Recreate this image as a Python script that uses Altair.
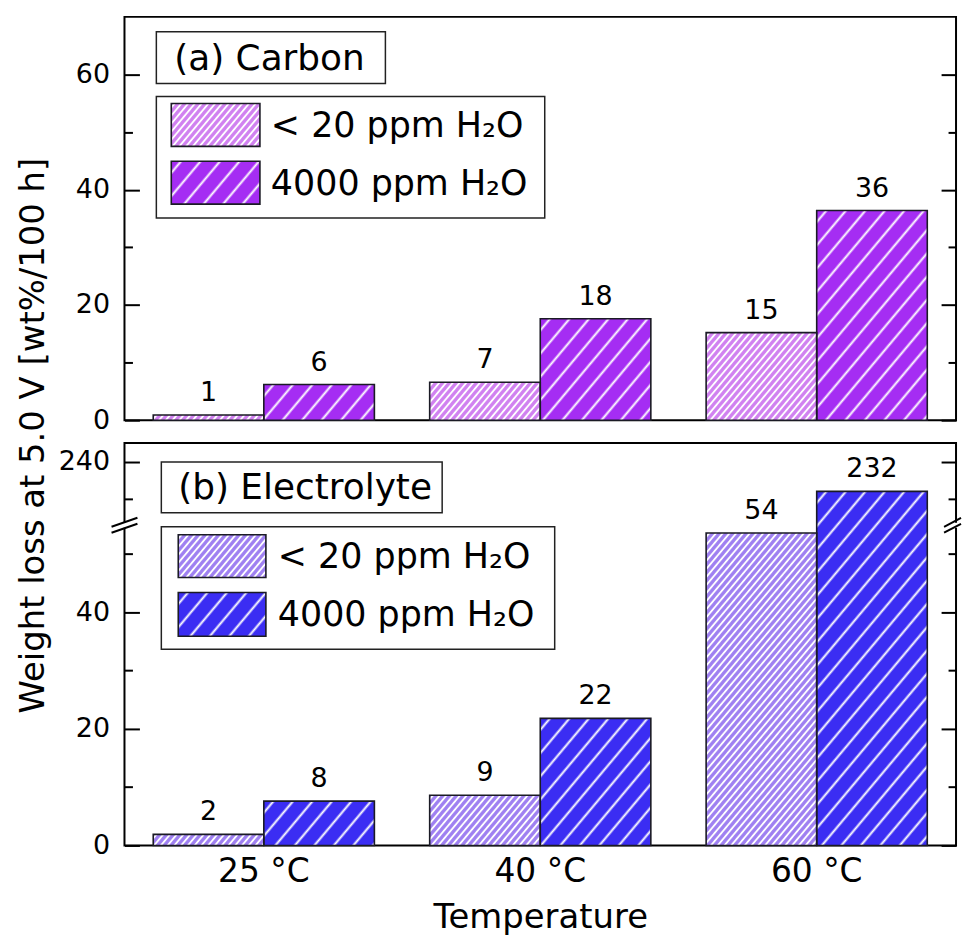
import base64
import altair as alt
import pandas as pd

# ---------------- data ----------------
temps = ["25 °C", "40 °C", "60 °C"]
series = ["< 20 ppm H₂O", "4000 ppm H₂O"]
carbon_low = [0.9, 6.6, 15.2]
carbon_high = [6.2, 17.6, 36.4]
electrolyte_low = [1.9, 8.6, 53.6]
electrolyte_high = [7.6, 21.8, 232.0]
carbon_major = [0, 20, 40, 60]
carbon_minor = [10, 30, 50]
electrolyte_major = [0, 20, 40, 240]
electrolyte_minor = [10, 30, 50, 230]
carbon_colors = ["#d080f0", "#a52df3"]
electrolyte_colors = ["#9e7ff1", "#3b2df3"]
panel_labels = ["(a) Carbon", "(b) Electrolyte"]
y_title = "Weight loss at 5.0 V [wt%/100 h]"
x_title = "Temperature"

# ---------------- layout / style ----------------
FONT = "DejaVu Sans"
W = 835
H_TOP = 405
H_BOT = 404
BREAK_PX = 82
EDGE = "#1b1b25"


def hatch(period, stroke, angle=40):
    svg = (
        "<svg xmlns='http://www.w3.org/2000/svg' width='100%' height='100%'>"
        f"<defs><pattern id='h' patternUnits='userSpaceOnUse' width='{period}' height='{period}' "
        f"patternTransform='rotate({angle})'>"
        f"<line x1='{period / 2}' y1='-2' x2='{period / 2}' y2='{period + 2}' stroke='white' "
        f"stroke-width='{stroke}'/></pattern></defs>"
        "<rect width='100%' height='100%' fill='url(#h)'/></svg>"
    )
    return "data:image/svg+xml;base64," + base64.b64encode(svg.encode("utf-8")).decode("ascii")


HATCH = {series[0]: hatch(5.2, 1.9), series[1]: hatch(15, 2.0)}


def tick_axis(orient, values, size):
    return alt.Axis(orient=orient, offset=-W, values=values, labels=False, domain=False,
                    grid=False, ticks=True, tickSize=size, tickWidth=2, tickColor="black",
                    title=None)


def panel(low, high, colors, label, yscale, major, minor, height, boxes, bottom):
    df = pd.DataFrame({
        "temp": temps + temps,
        "series": [series[0]] * 3 + [series[1]] * 3,
        "value": low + high,
    })
    df["hatch"] = df["series"].map(HATCH)
    base = alt.Chart(df)

    def X(axis=None):
        return alt.X("temp:N", sort=temps,
                     scale=alt.Scale(paddingInner=0.2, paddingOuter=0.104), axis=axis)

    xoff = alt.XOffset("series:N", sort=series, scale=alt.Scale(paddingInner=0, paddingOuter=0))

    def Y(axis=None):
        return alt.Y("value:Q", scale=yscale, axis=axis)

    if bottom:
        x_axis = alt.Axis(title=x_title, labelFontSize=33, titleFontSize=34,
                          titleFontWeight="normal", labelAngle=0, ticks=False, tickSize=0,
                          domain=False, labelPadding=10, titlePadding=12,
                          labelColor="black", titleColor="black")
        left_axis = alt.Axis(values=major, ticks=False, tickSize=0, domain=False, grid=False,
                             labelFontSize=27, labelPadding=15, labelColor="black", title=None)
    else:
        x_axis = None
        left_axis = alt.Axis(values=major, ticks=False, tickSize=0, domain=False, grid=False,
                             labelFontSize=27, labelPadding=15, labelColor="black",
                             title=y_title, titleFontSize=34, titleFontWeight="normal",
                             titleColor="black", titleAngle=270, titleX=-91, titleY=420,
                             titleAlign="center", titleBaseline="middle")

    bars = base.mark_bar(strokeWidth=0).encode(
        x=X(x_axis), xOffset=xoff, y=Y(left_axis), y2=alt.datum(0),
        color=alt.Color("series:N", scale=alt.Scale(domain=series, range=colors), legend=None),
    )
    hatch_img = base.mark_image(aspect=False).encode(
        x=X(), xOffset=xoff, y=Y(tick_axis("right", major, 15)), y2=alt.datum(0),
        url="hatch:N",
    )
    outline = base.mark_bar(fill="white", fillOpacity=0, stroke=EDGE, strokeWidth=1.6).encode(
        x=X(), xOffset=xoff, y=Y(tick_axis("left", major, 15)), y2=alt.datum(0),
    )
    values = base.mark_text(baseline="alphabetic", dy=-14, fontSize=27, color="black").encode(
        x=X(), xOffset=xoff, y=Y(tick_axis("right", minor, 8)),
        text=alt.Text("value:Q", format=".0f"),
    )
    ghost = base.mark_point(opacity=0).encode(
        x=X(), xOffset=xoff, y=Y(tick_axis("left", minor, 8)),
    )

    layers = [bars, hatch_img, outline, values, ghost]

    # panel label box
    (tb, lb, sw, tx) = boxes
    lab = alt.Chart(pd.DataFrame({"label": [label]}))
    layers.append(lab.mark_rect(fill="white", stroke="#222", strokeWidth=1.5).encode(
        x=alt.value(tb[0]), x2=alt.value(tb[1]), y=alt.value(tb[2]), y2=alt.value(tb[3])))
    layers.append(lab.mark_text(align="left", baseline="middle", fontSize=36, color="black").encode(
        x=alt.value(tb[4]), y=alt.value(tb[5]), text="label:N"))
    # legend box
    layers.append(lab.mark_rect(fill="white", stroke="#222", strokeWidth=1.5).encode(
        x=alt.value(lb[0]), x2=alt.value(lb[1]), y=alt.value(lb[2]), y2=alt.value(lb[3])))
    for i, s in enumerate(series):
        row = alt.Chart(pd.DataFrame({"label": [s], "hatch": [HATCH[s]]}))
        y0, y1 = sw[i]
        layers.append(row.mark_rect(fill=colors[i]).encode(
            x=alt.value(sw[2]), x2=alt.value(sw[3]), y=alt.value(y0), y2=alt.value(y1)))
        layers.append(row.mark_image(aspect=False).encode(
            x=alt.value(sw[2]), x2=alt.value(sw[3]), y=alt.value(y0), y2=alt.value(y1),
            url="hatch:N"))
        layers.append(row.mark_rect(fill="white", fillOpacity=0, stroke=EDGE, strokeWidth=1.6).encode(
            x=alt.value(sw[2]), x2=alt.value(sw[3]), y=alt.value(y0), y2=alt.value(y1)))
        layers.append(row.mark_text(align="left", baseline="middle", fontSize=35, color="black").encode(
            x=alt.value(tx), y=alt.value((y0 + y1) / 2 + 1), text="label:N"))

    if bottom:
        brk = alt.Chart(pd.DataFrame({"k": [0]}))
        for side, left_ext, right_ext in ((0, 13, 13), (W, 12, 5)):
            layers.append(brk.mark_rect(fill="white").encode(
                x=alt.value(side - 4), x2=alt.value(side + 4),
                y=alt.value(BREAK_PX - 2), y2=alt.value(BREAK_PX + 3)))
            for dyy in (-3, 3):
                layers.append(brk.mark_rule(color="black", strokeWidth=2).encode(
                    x=alt.value(side - left_ext), x2=alt.value(side + right_ext),
                    y=alt.value(BREAK_PX + 5 + dyy), y2=alt.value(BREAK_PX - 4 + dyy)))

    return alt.layer(*layers).resolve_axis(y="independent", x="independent").properties(
        width=W, height=height)


top = panel(
    carbon_low, carbon_high, carbon_colors, panel_labels[0],
    alt.Scale(domain=[0, 70], nice=False, zero=False),
    carbon_major, carbon_minor, H_TOP,
    ((32, 262, 15, 67, 50, 42),
     (32, 422, 80, 202),
     ((87, 130), (145, 188), 47, 136),
     147),
    False,
)

bottom = panel(
    electrolyte_low, electrolyte_high, electrolyte_colors, panel_labels[1],
    alt.Scale(domain=[0, 55, 223, 245], range=[H_BOT, BREAK_PX, BREAK_PX, 0], nice=False, zero=False),
    electrolyte_major, electrolyte_minor, H_BOT,
    ((37, 319, 19, 70, 54, 45),
     (37, 432, 84, 207),
     ((92, 135), (150, 194), 54, 142),
     154),
    True,
)

chart = alt.vconcat(top, bottom, spacing=23, bounds="flush").resolve_scale(
    color="independent"
).properties(
    padding={"left": 15, "top": 14, "right": 0, "bottom": 0}
).configure(font=FONT).configure_view(stroke="black", strokeWidth=2)

chart.save("out.html", embed_options={"renderer": "svg", "actions": False})
